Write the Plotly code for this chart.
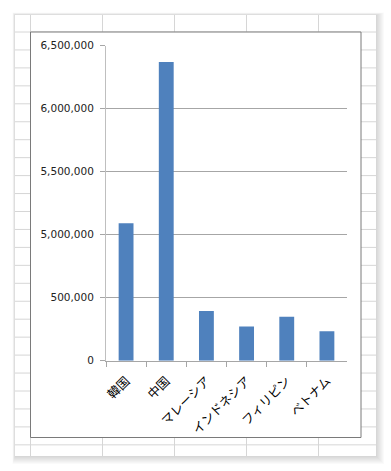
import numpy as np
import plotly.graph_objects as go

# ---- data ----
categories = ["韓国", "中国", "マレーシア", "インドネシア", "フィリピン", "ベトナム"]
visitors = [5090000, 6370000, 394000, 271000, 348000, 234000]
tick_values = [0, 500000, 5000000, 5500000, 6000000, 6500000]
tick_labels = ["0", "500,000", "5,000,000", "5,500,000", "6,000,000", "6,500,000"]

# broken axis: each labelled tick is equally spaced
tick_pos = list(range(len(tick_values)))
bar_pos = np.interp(visitors, tick_values, tick_pos)

W, H = 391, 471


def px(x):
    return x / W


def py(y):
    return 1 - y / H


shapes = []
# soft shadow around the sheet
for i in range(1, 9):
    shapes.append(dict(type="rect", xref="paper", yref="paper", layer="below",
                       x0=px(15 - i * 0.3), x1=px(376 + i * 1.0),
                       y0=py(456 + i * 1.0), y1=py(15 - i * 0.3),
                       fillcolor="rgba(0,0,0,0.018)", line=dict(width=0)))
# sheet
shapes.append(dict(type="rect", xref="paper", yref="paper", layer="below",
                   x0=px(15), x1=px(376), y0=py(456), y1=py(15),
                   fillcolor="white", line=dict(width=0)))
# cell grid
grid_col = "#d6d6d6"
for gx in [30.5, 102.5, 174.5, 246.5, 318.5]:
    shapes.append(dict(type="line", xref="paper", yref="paper", layer="below",
                       x0=px(gx), x1=px(gx), y0=py(456), y1=py(15),
                       line=dict(color=grid_col, width=1)))
gy = 32.0
while gy < 456:
    shapes.append(dict(type="line", xref="paper", yref="paper", layer="below",
                       x0=px(15), x1=px(376), y0=py(gy), y1=py(gy),
                       line=dict(color=grid_col, width=1)))
    gy += 17.95
# chart area
shapes.append(dict(type="rect", xref="paper", yref="paper", layer="below",
                   x0=px(30.5), x1=px(361), y0=py(437.5), y1=py(32),
                   fillcolor="white", line=dict(color="#7a7a7a", width=1)))

fig = go.Figure(go.Bar(x=categories, y=bar_pos, marker=dict(color="#4f81bd", line=dict(width=0)),
                       width=0.37, hoverinfo="skip"))

fig.update_layout(
    width=W, height=H,
    margin=dict(l=0, r=0, t=0, b=0, pad=0),
    paper_bgcolor="white", plot_bgcolor="rgba(0,0,0,0)",
    shapes=shapes,
    showlegend=False,
    xaxis=dict(domain=[px(106), px(347)], type="category", tickson="boundaries",
               automargin=False,
               ticks="outside", ticklen=5, tickcolor="#a6a6a6",
               showline=True, linecolor="#a6a6a6", linewidth=1,
               showgrid=False, tickangle=-45,
               tickfont=dict(family="Noto Sans CJK JP", size=12.5, color="#000000"),
               ticklabelstandoff=7,
               fixedrange=True),
    yaxis=dict(domain=[py(360.7), py(45.7)], range=[0, 5],
               automargin=False,
               tickmode="array", tickvals=tick_pos, ticktext=tick_labels,
               ticks="outside", ticklen=5, tickcolor="#a6a6a6",
               showline=True, linecolor="#bfbfbf", linewidth=1,
               showgrid=True, gridcolor="#a6a6a6", gridwidth=1, zeroline=False,
               tickfont=dict(family="DejaVu Sans", size=10.5, color="#222222"),
               ticklabelstandoff=4,
               fixedrange=True),
)

fig.write_html("out.html", config=dict(displayModeBar=False))
